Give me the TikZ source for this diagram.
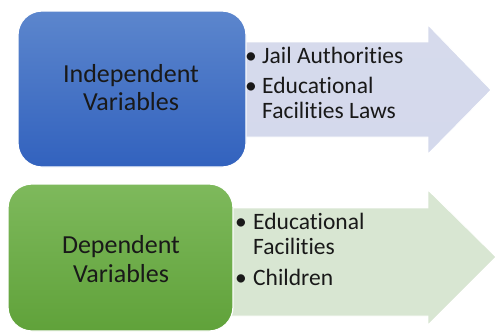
\documentclass[tikz,border=0pt]{standalone}
\usepackage{fontspec}
\setmainfont[Ligatures={NoCommon}]{Carlito}
\begin{document}
\begin{tikzpicture}[x=1pt,y=-1pt,
  mainbox/.style={rounded corners=24pt, draw=white, line width=1.2pt},
  arrowshape/.style={draw=white, line width=0.8pt},
  maintext/.style={font=\fontsize{26}{28}\selectfont, anchor=base, inner sep=0pt, text=black!90},
  itemtext/.style={font=\fontsize{23.5}{25}\selectfont, anchor=base west, inner sep=0pt, text=black!90},
  bul/.style={font=\fontsize{23.5}{25}\selectfont, anchor=base, inner sep=0pt, text=black!90}]
\useasboundingbox (0,0) rectangle (496,333);
% top arrow
\shade[arrowshape, top color={rgb,255:red,214;green,218;blue,236}, bottom color={rgb,255:red,212;green,217;blue,236}]
  (240,42) -- (428,42) -- (428,25) -- (491,90) -- (428,154) -- (428,137) -- (240,137) -- cycle;
% bottom arrow
\shade[arrowshape, top color={rgb,255:red,216;green,230;blue,210}, bottom color={rgb,255:red,216;green,230;blue,210}]
  (228,208) -- (428,208) -- (428,190) -- (496,257) -- (428,325) -- (428,316) -- (228,316) -- cycle;
% boxes
\shade[mainbox, top color={rgb,255:red,92;green,134;blue,205}, bottom color={rgb,255:red,50;green,98;blue,190}]
  (18,11) rectangle (246,167);
\shade[mainbox, top color={rgb,255:red,126;green,185;blue,92}, bottom color={rgb,255:red,96;green,162;blue,58}]
  (8,184) rectangle (233,331);
\node[maintext] (iv1) at (131,82) {Independent};
\node[maintext] (iv2) at (131,110) {Variables};
\node[maintext] (dv1) at (121,253) {Dependent};
\node[maintext] (dv2) at (121,282) {Variables};
% top items
\node[bul] (b1) at (251,63) {\textbullet};
\node[itemtext] (t1) at (262,63) {Jail Authorities};
\node[bul] (b2) at (251,93) {\textbullet};
\node[itemtext] (t2a) at (262,93) {Educational};
\node[itemtext] (t2b) at (262,118) {Facilities Laws};
% bottom items
\node[bul] (b3) at (241,229) {\textbullet};
\node[itemtext] (t3a) at (253,229) {Educational};
\node[itemtext] (t3b) at (253,254) {Facilities};
\node[bul] (b4) at (241,285) {\textbullet};
\node[itemtext] (t4) at (253,285) {Children};
\end{tikzpicture}
\end{document}
